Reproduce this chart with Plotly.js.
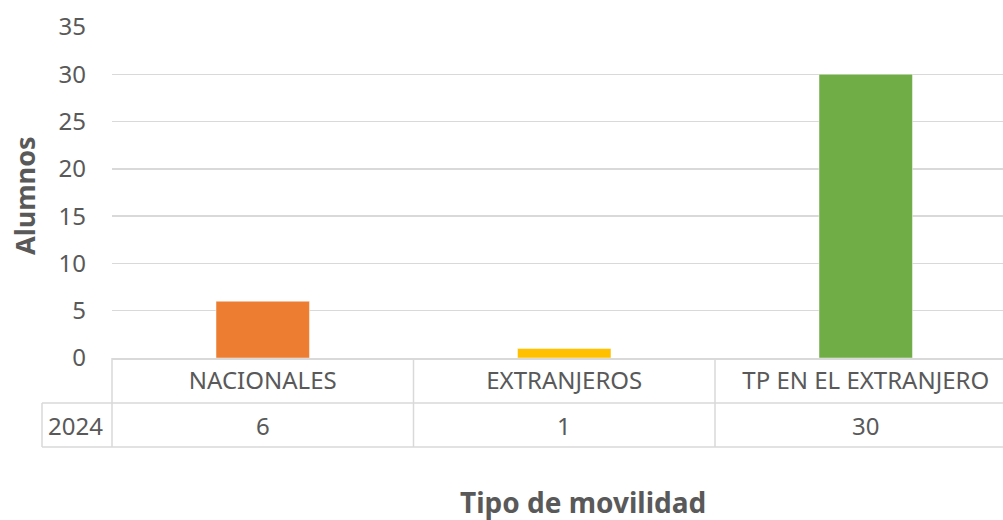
<!DOCTYPE html>
<html>
<head>
<meta charset="utf-8">
<script src="https://cdn.plot.ly/plotly-3.0.1.min.js"></script>
<style>html,body{margin:0;padding:0;background:#fff;}#chart{width:1003px;height:520px;}</style>
</head>
<body>
<div id="chart"></div>
<script>
const categories = ["NACIONALES", "EXTRANJEROS", "TP EN EL EXTRANJERO"];
const values = [6, 1, 30];
const barColors = ["#ED7D31", "#FFC000", "#70AD47"];
const seriesName = "2024";
const yTicks = [0, 5, 10, 15, 20, 25, 30, 35];
const xTitle = "Tipo de movilidad";
const yTitle = "Alumnos";

const W = 1003, H = 520;
const mL = 112, mR = 0, mT = 27, mB = 162;
const plotW = W - mL - mR, plotH = H - mT - mB;
const px2paperY = p => (H - mB - p) / plotH;
const px2paperX = p => (p - mL) / plotW;

const textColor = "#595959";
const lineColor = "#D9D9D9";
const font = "Noto Sans, Open Sans, sans-serif";

const trace = {
  type: "bar",
  x: categories,
  y: values,
  name: seriesName,
  width: 0.31,
  marker: {color: barColors, line: {color: "rgba(255,255,255,0.45)", width: 1}},
  hoverinfo: "x+y"
};

const rowLine1 = px2paperY(403), rowBottom = px2paperY(447), tableTop = px2paperY(358);
const leftCell = px2paperX(42);

const shapes = [
  {type: "line", xref: "paper", yref: "paper", x0: leftCell, x1: 1.02, y0: rowLine1, y1: rowLine1, line: {color: lineColor, width: 1.5}},
  {type: "line", xref: "paper", yref: "paper", x0: leftCell, x1: 1.02, y0: rowBottom, y1: rowBottom, line: {color: lineColor, width: 1.5}},
  {type: "line", xref: "paper", yref: "paper", x0: leftCell, x1: leftCell, y0: rowLine1, y1: rowBottom, line: {color: lineColor, width: 1.5}},
  {type: "line", xref: "paper", yref: "paper", x0: 0, x1: 0, y0: tableTop, y1: rowBottom, line: {color: lineColor, width: 1.5}}
];
for (let i = 0; i < categories.length - 1; i++) {
  shapes.push({type: "line", xref: "x", yref: "paper", x0: i + 0.5, x1: i + 0.5, y0: tableTop, y1: rowBottom, line: {color: lineColor, width: 1.5}});
}

const annotations = [];
annotations.push({xref: "paper", yref: "paper", x: px2paperX(75), y: px2paperY(425), text: seriesName, showarrow: false, xanchor: "center", yanchor: "middle", font: {family: font, size: 24, color: textColor}});
categories.forEach((c, i) => {
  annotations.push({xref: "x", yref: "paper", x: c, y: px2paperY(425), text: String(values[i]), showarrow: false, xanchor: "center", yanchor: "middle", font: {family: font, size: 24, color: textColor}});
});
// axis titles
annotations.push({xref: "paper", yref: "paper", x: px2paperX(583), y: px2paperY(502), text: "<b>" + xTitle + "</b>", showarrow: false, xanchor: "center", yanchor: "middle", font: {family: font, size: 28, color: textColor}});
annotations.push({xref: "paper", yref: "paper", x: px2paperX(24), y: px2paperY(196), text: "<b>" + yTitle + "</b>", textangle: -90, showarrow: false, xanchor: "center", yanchor: "middle", font: {family: font, size: 27, color: textColor}});

const layout = {
  width: W, height: H,
  margin: {l: mL, r: mR, t: mT, b: mB, pad: 0},
  paper_bgcolor: "#FFFFFF",
  plot_bgcolor: "#FFFFFF",
  showlegend: false,
  font: {family: font, color: textColor},
  xaxis: {
    type: "category",
    range: [-0.5, -0.5 + plotW / 301.5],
    showgrid: false,
    showline: true, linecolor: lineColor, linewidth: 1.5,
    ticks: "",
    ticklabelstandoff: 1,
    tickfont: {family: font, size: 24, color: textColor},
    fixedrange: true
  },
  yaxis: {
    range: [0, 35],
    tickvals: yTicks,
    showgrid: true, gridcolor: lineColor, gridwidth: 1.5,
    zeroline: false,
    showline: false,
    ticks: "",
    ticklabelstandoff: 25,
    tickfont: {family: font, size: 24, color: textColor},
    fixedrange: true
  },
  shapes: shapes,
  annotations: annotations
};

Plotly.newPlot("chart", [trace], layout, {displayModeBar: false, staticPlot: true});
</script>
</body>
</html>
